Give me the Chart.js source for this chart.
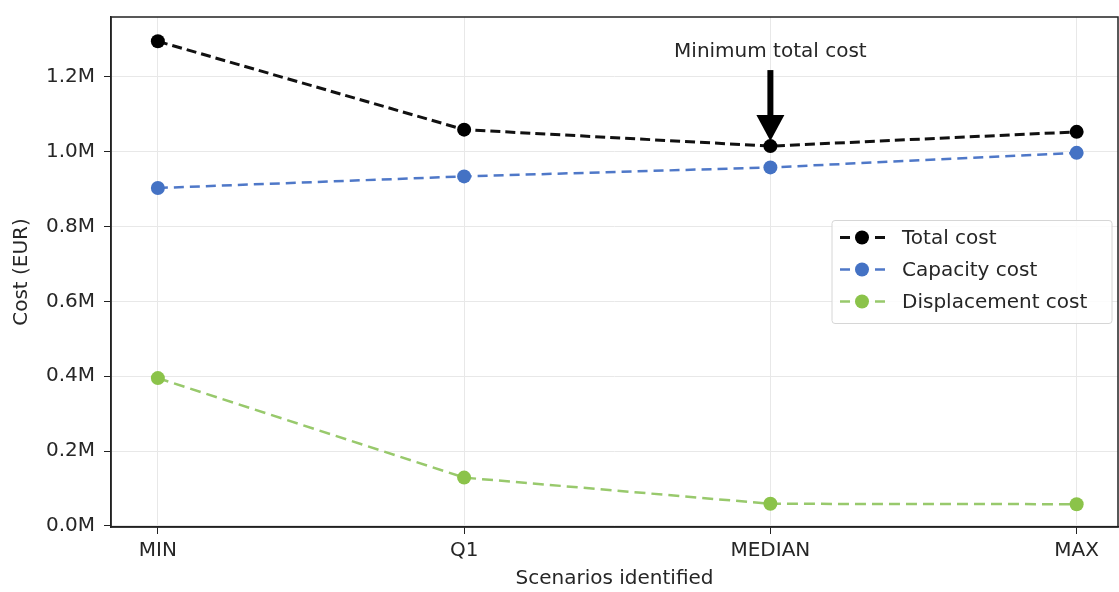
<!DOCTYPE html>
<html>
<head>
<meta charset="utf-8">
<script src="https://cdn.jsdelivr.net/npm/chart.js@4"></script>
<style>
  html, body { margin: 0; padding: 0; background: #fff; overflow: hidden; }
  #costChart { display: block; }
</style>
</head>
<body>
<canvas id="costChart" width="1119" height="592"></canvas>
<script>
// Costes por escenario
const categories = ['MIN', 'Q1', 'MEDIAN', 'MAX'];
const totalCost = [1295000, 1059000, 1015000, 1053000];
const capacityCost = [903000, 934000, 958000, 997000];
const displacementCost = [395000, 129000, 59000, 58000];
const yTicks = [0, 200000, 400000, 600000, 800000, 1000000, 1200000];

const FONT = '"DejaVu Sans", sans-serif';
const TEXT = '#262626';

const toPoints = arr => arr.map((v, i) => ({ x: i, y: v }));

// marco completo alrededor del area
const frame = {
    id: 'frame',
    afterDraw(chart) {
        const { ctx, chartArea: a } = chart;
        ctx.save();
        ctx.strokeStyle = '#222';
        ctx.lineWidth = 1.5;
        ctx.strokeRect(a.left, a.top, a.right - a.left, a.bottom - a.top);
        ctx.restore();
    }
};

// flecha "Minimum total cost"
const arrowNote = {
    id: 'arrowNote',
    afterDatasetsDraw(chart) {
        const idx = totalCost.indexOf(Math.min(...totalCost));
        const x = chart.scales.x.getPixelForValue(idx);
        const y = chart.scales.y.getPixelForValue(totalCost[idx]);
        const ctx = chart.ctx;
        ctx.save();
        ctx.fillStyle = '#000';
        ctx.fillRect(x - 3, y - 76, 6, 46);
        ctx.beginPath();
        ctx.moveTo(x - 14, y - 31);
        ctx.lineTo(x + 14, y - 31);
        ctx.lineTo(x, y - 5);
        ctx.closePath();
        ctx.fill();
        ctx.fillStyle = TEXT;
        ctx.font = '20px ' + FONT;
        ctx.textAlign = 'center';
        ctx.textBaseline = 'middle';
        ctx.fillText('Minimum total cost', x, y - 94);
        ctx.restore();
    }
};

// leyenda estilo matplotlib
const legendBox = {
    id: 'legendBox',
    afterDraw(chart) {
        const { ctx, chartArea: a } = chart;
        const w = 280, h = 103, rowH = 32;
        const x0 = a.right - 6 - w;
        const y0 = (a.top + a.bottom) / 2 - h / 2;
        ctx.save();
        ctx.beginPath();
        ctx.roundRect(x0, y0, w, h, 3);
        ctx.fillStyle = 'rgba(255,255,255,0.85)';
        ctx.fill();
        ctx.strokeStyle = '#d6d6d6';
        ctx.lineWidth = 1;
        ctx.stroke();
        ctx.font = '20px ' + FONT;
        ctx.textBaseline = 'middle';
        chart.data.datasets.forEach((ds, i) => {
            const y = y0 + 17 + i * rowH;
            ctx.strokeStyle = ds.borderColor;
            ctx.lineWidth = ds.borderWidth;
            ctx.beginPath();
            ctx.moveTo(x0 + 8, y); ctx.lineTo(x0 + 18, y);
            ctx.moveTo(x0 + 43, y); ctx.lineTo(x0 + 53, y);
            ctx.stroke();
            ctx.fillStyle = ds.pointBackgroundColor;
            ctx.beginPath();
            ctx.arc(x0 + 30, y, ds.pointRadius, 0, Math.PI * 2);
            ctx.fill();
            ctx.fillStyle = TEXT;
            ctx.fillText(ds.label, x0 + 70, y + 1);
        });
        ctx.restore();
    }
};

function lineSet(label, values, lineColor, pointColor, width, dash) {
    return {
        label: label,
        data: toPoints(values),
        borderColor: lineColor,
        borderWidth: width,
        borderDash: dash,
        pointRadius: 7,
        pointBackgroundColor: pointColor,
        pointBorderWidth: 0,
        tension: 0
    };
}

new Chart(document.getElementById('costChart'), {
    type: 'line',
    data: {
        datasets: [
            lineSet('Total cost', totalCost, '#111', '#000', 3, [10, 5]),
            lineSet('Capacity cost', capacityCost, '#4f78c8', '#4472c4', 2.5, [10, 6]),
            lineSet('Displacement cost', displacementCost, '#98c96c', '#8bc34a', 2.5, [11, 6])
        ]
    },
    options: {
        responsive: false,
        animation: false,
        devicePixelRatio: 1,
        layout: { autoPadding: false, padding: { top: 17, right: 1, left: 0, bottom: 0 } },
        plugins: {
            legend: { display: false },
            tooltip: { enabled: false }
        },
        scales: {
            x: {
                type: 'linear',
                min: -0.153,
                max: 3.135,
                afterFit: s => { s.height = 65; s.paddingLeft = 0; s.paddingRight = 0; },
                afterBuildTicks: s => { s.ticks = categories.map((c, i) => ({ value: i })); },
                ticks: {
                    callback: v => categories[v],
                    color: TEXT,
                    font: { family: FONT, size: 20 },
                    padding: 5,
                    maxRotation: 0
                },
                grid: { color: '#e8e8e8', tickColor: '#222', tickLength: 7 },
                border: { color: '#222', width: 1.5 },
                title: {
                    display: true,
                    text: 'Scenarios identified',
                    color: TEXT,
                    font: { family: FONT, size: 20 },
                    padding: { top: 0, bottom: 1 }
                }
            },
            y: {
                min: -3000,
                max: 1360000,
                afterFit: s => { s.width = 111; s.paddingTop = 0; s.paddingBottom = 0; },
                afterBuildTicks: s => { s.ticks = yTicks.map(v => ({ value: v })); },
                ticks: {
                    callback: v => (v / 1e6).toFixed(1) + 'M',
                    color: TEXT,
                    font: { family: FONT, size: 20 },
                    padding: 9
                },
                grid: { color: '#e8e8e8', tickColor: '#222', tickLength: 7 },
                border: { color: '#222', width: 1.5 },
                title: {
                    display: true,
                    text: 'Cost (EUR)',
                    color: TEXT,
                    font: { family: FONT, size: 20 },
                    padding: { top: 10, bottom: 0 }
                }
            }
        }
    },
    plugins: [frame, arrowNote, legendBox]
});
</script>
</body>
</html>
